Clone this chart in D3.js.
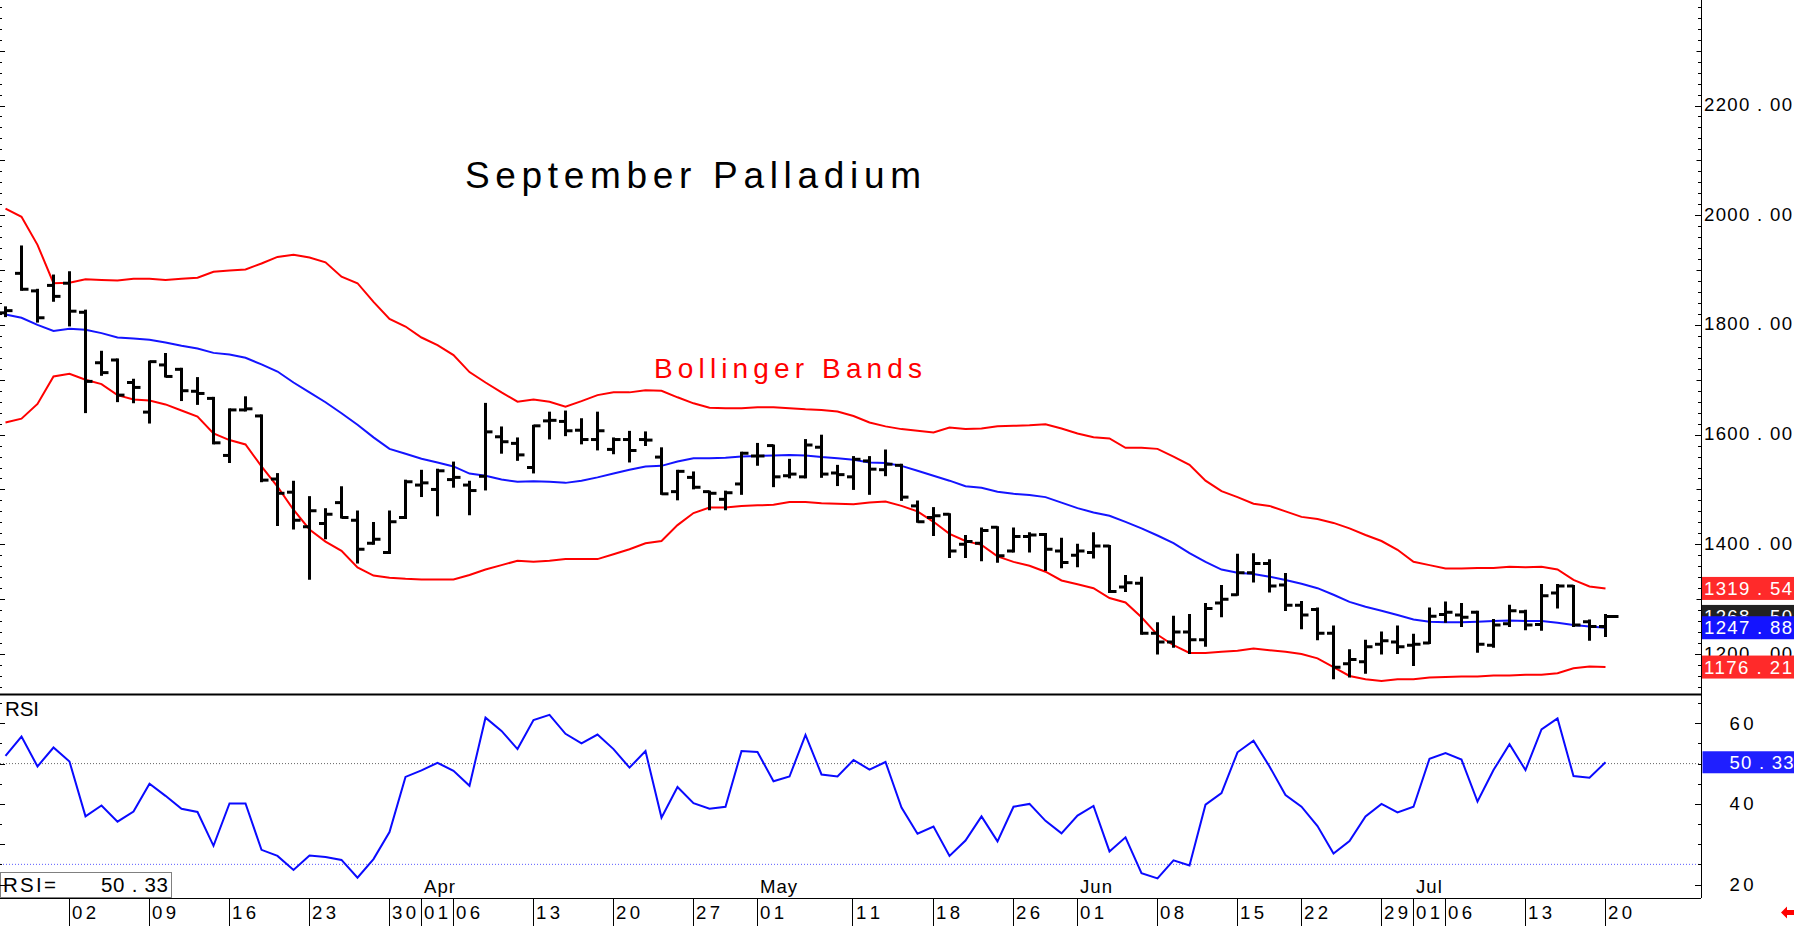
<!DOCTYPE html>
<html>
<head>
<meta charset="utf-8">
<script src="https://cdn.jsdelivr.net/npm/d3@7"></script>
<style>
  body { margin: 0; background: #fff; }
  svg { display: block; font-family: "Liberation Sans", Arial, sans-serif; }
</style>
</head>
<body>
<svg id="chart" width="1797" height="926"></svg>
<script>
// bars are indexed by trading day, 0 = Mar 02; the chart starts 4 bars earlier
var firstIndex = -4;

var opens = [1822, 1894, 1862, 1872,
  1876, 1823, 1731, 1736, 1695, 1641, 1727, 1719, 1679, 1666,
  1562, 1645, 1634, 1519, 1495, 1432, 1438, 1476, 1444, 1402,
  1385, 1449, 1508, 1500, 1518, 1508, 1524, 1596, 1584, 1540,
  1625, 1624, 1608, 1591, 1573, 1591, 1591, 1559, 1496, 1522,
  1496, 1482, 1510, 1561, 1580, 1525, 1523, 1577, 1530, 1523,
  1552, 1536, 1544, 1470, 1449, 1455, 1400, 1402, 1431, 1388,
  1414, 1418, 1388, 1380, 1385, 1397, 1322, 1329, 1238, 1222,
  1240, 1226, 1293, 1308, 1348, 1365, 1326, 1289, 1281, 1238,
  1182, 1186, 1218, 1222, 1216, 1220, 1272, 1271, 1276, 1216,
  1255, 1277, 1254, 1311, 1324, 1259, 1250];

var highs = [1832, 1943, 1864, 1890,
  1896, 1826, 1751, 1737, 1700, 1733, 1747, 1720, 1703, 1667,
  1646, 1668, 1635, 1528, 1514, 1486, 1464, 1504, 1460, 1439,
  1460, 1516, 1534, 1536, 1549, 1514, 1656, 1613, 1593, 1616,
  1640, 1642, 1628, 1640, 1593, 1605, 1604, 1575, 1534, 1531,
  1496, 1496, 1567, 1583, 1580, 1554, 1590, 1598, 1543, 1559,
  1559, 1571, 1545, 1478, 1466, 1455, 1415, 1429, 1431, 1429,
  1420, 1419, 1410, 1399, 1420, 1397, 1342, 1339, 1256, 1268,
  1271, 1291, 1324, 1381, 1382, 1371, 1346, 1295, 1283, 1250,
  1207, 1224, 1239, 1250, 1235, 1283, 1294, 1291, 1277, 1262,
  1288, 1279, 1326, 1326, 1324, 1261, 1271];

var lows = [1816, 1864, 1806, 1844,
  1799, 1641, 1709, 1661, 1659, 1622, 1706, 1663, 1656, 1584,
  1550, 1644, 1515, 1435, 1429, 1337, 1411, 1449, 1367, 1401,
  1384, 1448, 1488, 1453, 1505, 1455, 1500, 1567, 1554, 1531,
  1593, 1599, 1584, 1573, 1566, 1551, 1581, 1492, 1482, 1502,
  1464, 1464, 1492, 1545, 1506, 1522, 1522, 1523, 1508, 1501,
  1492, 1526, 1481, 1441, 1417, 1377, 1377, 1371, 1368, 1387,
  1387, 1353, 1358, 1360, 1376, 1313, 1315, 1237, 1201, 1213,
  1202, 1215, 1269, 1308, 1332, 1314, 1280, 1247, 1227, 1156,
  1159, 1166, 1201, 1202, 1180, 1220, 1259, 1251, 1204, 1213,
  1251, 1245, 1244, 1285, 1251, 1226, 1233];

var closes = [1826, 1865, 1813, 1852,
  1825, 1697, 1713, 1672, 1686, 1733, 1706, 1680, 1675, 1585,
  1645, 1647, 1517, 1493, 1444, 1461, 1455, 1449, 1391, 1409,
  1441, 1514, 1512, 1534, 1522, 1498, 1605, 1587, 1563, 1616,
  1626, 1607, 1591, 1607, 1591, 1571, 1590, 1492, 1533, 1504,
  1493, 1494, 1566, 1561, 1523, 1528, 1581, 1528, 1527, 1555,
  1537, 1546, 1486, 1441, 1452, 1388, 1405, 1425, 1379, 1414,
  1417, 1391, 1367, 1388, 1397, 1314, 1330, 1238, 1222, 1240,
  1226, 1283, 1300, 1348, 1365, 1324, 1289, 1271, 1238, 1176,
  1190, 1213, 1224, 1213, 1218, 1269, 1276, 1267, 1218, 1253,
  1279, 1253, 1306, 1324, 1253, 1250, 1268.5];

// bollinger bands
var upperBand = [2012, 1997, 1946, 1876,
  1877, 1883, 1882, 1881, 1884, 1884, 1882, 1884, 1886, 1897,
  1899, 1901, 1912, 1924, 1928, 1923, 1914, 1888, 1876, 1842,
  1811, 1797, 1777, 1763, 1745, 1714, 1695, 1677, 1660, 1664,
  1660, 1651, 1661, 1672, 1677, 1677, 1681, 1680, 1668, 1657,
  1649, 1648, 1648, 1650, 1650, 1648, 1646, 1645, 1642, 1634,
  1622, 1615, 1610, 1607, 1604, 1613, 1610, 1611, 1615, 1616,
  1617, 1619, 1611, 1602, 1595, 1593, 1576, 1576, 1574, 1560,
  1545, 1516, 1497, 1486, 1474, 1470, 1460, 1450, 1446, 1439,
  1429, 1417, 1406, 1390, 1368, 1362, 1356, 1356, 1357, 1357,
  1359, 1358, 1359, 1354, 1335, 1323, 1319.54];

var midBand = [1819, 1813, 1800, 1789,
  1793, 1791, 1785, 1777, 1775, 1773, 1768, 1762, 1757, 1749,
  1746, 1740, 1728, 1715, 1695, 1677, 1659, 1639, 1618, 1595,
  1574, 1565, 1556, 1549, 1542, 1529, 1525, 1518, 1514, 1515,
  1514, 1512, 1516, 1522, 1529, 1536, 1542, 1543, 1551, 1557,
  1557, 1558, 1560, 1561, 1562, 1563, 1562, 1559, 1557, 1554,
  1549, 1548, 1543, 1534, 1525, 1516, 1506, 1503, 1496, 1492,
  1490, 1486, 1476, 1466, 1458, 1452, 1441, 1429, 1416, 1402,
  1384, 1368, 1354, 1348, 1346, 1341, 1335, 1328, 1320, 1308,
  1295, 1286, 1279, 1271, 1263, 1259, 1258, 1258, 1259, 1260,
  1261, 1260, 1260, 1257, 1253, 1250, 1247.88];

var lowerBand = [1622, 1629, 1656, 1706,
  1711, 1700, 1692, 1672, 1664, 1662, 1655, 1644, 1633, 1602,
  1590, 1582, 1542, 1505, 1463, 1427, 1405, 1388, 1358, 1343,
  1339, 1337, 1336, 1336, 1336, 1344, 1354, 1362, 1370, 1368,
  1370, 1373, 1373, 1373, 1382, 1391, 1402, 1406, 1435, 1457,
  1467, 1467, 1470, 1471, 1472, 1477, 1477, 1475, 1474, 1473,
  1476, 1478, 1470, 1460, 1441, 1419, 1406, 1399, 1378, 1368,
  1361, 1350, 1334, 1327, 1320, 1302, 1294, 1267, 1235, 1216,
  1202, 1202, 1204, 1206, 1210, 1207, 1204, 1200, 1192, 1176,
  1160, 1154, 1151, 1154, 1154, 1157, 1158, 1159, 1159, 1161,
  1161, 1162, 1162, 1165, 1174, 1177, 1176.21];

var rsiValues = [51.9, 56.7, 49.3, 54.0,
  50.5, 36.9, 39.6, 35.6, 38.1, 45.0, 42.0, 38.8, 38.0, 29.6,
  40.1, 40.1, 28.6, 27.1, 23.6, 27.2, 26.8, 26.1, 21.7, 26.3,
  33.0, 46.7, 48.3, 50.2, 48.2, 44.5, 61.4, 58.1, 53.6, 60.8,
  62.1, 57.4, 55.0, 57.2, 53.6, 49.0, 53.1, 36.6, 44.2, 40.2,
  38.8, 39.3, 53.1, 52.9, 45.6, 46.8, 57.1, 47.3, 46.8, 50.9,
  48.5, 50.4, 39.1, 32.6, 34.4, 27.1, 30.9, 36.9, 30.7, 39.3,
  40.0, 35.8, 32.7, 37.1, 39.5, 28.2, 31.7, 22.8, 21.5, 26.0,
  24.7, 39.8, 42.7, 52.8, 55.7, 49.3, 42.2, 39.3, 34.5, 27.7,
  30.8, 36.9, 40.0, 37.9, 39.3, 51.2, 52.6, 51.0, 40.6, 48.4,
  54.8, 48.4, 58.5, 61.2, 46.9, 46.5, 50.33];

// date axis: bar index + label
var dayTicks = [
  {i: 0, label: '02'}, {i: 5, label: '09'}, {i: 10, label: '16'}, {i: 15, label: '23'},
  {i: 20, label: '30'}, {i: 22, label: '01'}, {i: 24, label: '06'}, {i: 29, label: '13'},
  {i: 34, label: '20'}, {i: 39, label: '27'}, {i: 43, label: '01'}, {i: 49, label: '11'},
  {i: 54, label: '18'}, {i: 59, label: '26'}, {i: 63, label: '01'}, {i: 68, label: '08'},
  {i: 73, label: '15'}, {i: 77, label: '22'}, {i: 82, label: '29'}, {i: 84, label: '01'},
  {i: 86, label: '06'}, {i: 91, label: '13'}, {i: 96, label: '20'}
];
var monthTicks = [
  {i: 22, label: 'Apr'}, {i: 43, label: 'May'}, {i: 63, label: 'Jun'}, {i: 84, label: 'Jul'}
];
var priceLabels = [1200, 1400, 1600, 1800, 2000, 2200];
var rsiLabels = [20, 40, 60];
var rsiLevels = [50, 25];

var titleText = 'September Palladium';
var bandText = 'Bollinger Bands';

var svg = d3.select('#chart');
var axisX = 1701;
var priceBottom = 694.5;
var rsiBottom = 898;

var x = d3.scaleLinear().domain([0, 96]).range([69.5, 1605.5]);
var y = d3.scaleLinear().domain([1200, 2200]).range([654, 105.5]);
var yRsi = d3.scaleLinear().domain([20, 60]).range([884.5, 723.3]);

function barX(k) {
  return x(firstIndex + k);
}

function spaced(v, digits) {
  // price labels on this chart are drawn with a wide decimal point
  return v.toFixed(digits).replace('.', ' . ');
}

var defs = svg.append('defs');
defs.append('clipPath').attr('id', 'clipPrice')
  .append('rect').attr('x', 0).attr('y', 0).attr('width', axisX).attr('height', priceBottom - 1);
defs.append('clipPath').attr('id', 'clipRsi')
  .append('rect').attr('x', 0).attr('y', priceBottom + 1).attr('width', axisX).attr('height', rsiBottom - priceBottom - 2);

//---- price pane ----
var price = svg.append('g').attr('clip-path', 'url(#clipPrice)');

var line = d3.line()
  .x(function(d, k) { return barX(k); })
  .y(function(d) { return y(d); });

price.append('path').datum(upperBand)
  .attr('d', line).attr('fill', 'none').attr('stroke', '#ff0000').attr('stroke-width', 2);
price.append('path').datum(lowerBand)
  .attr('d', line).attr('fill', 'none').attr('stroke', '#ff0000').attr('stroke-width', 2);
price.append('path').datum(midBand)
  .attr('d', line).attr('fill', 'none').attr('stroke', '#1414ff').attr('stroke-width', 2);

var bars = price.selectAll('g.bar')
  .data(opens)
  .enter().append('g')
  .attr('class', 'bar');

bars.append('line')
  .attr('x1', function(d, k) { return barX(k); })
  .attr('x2', function(d, k) { return barX(k); })
  .attr('y1', function(d, k) { return y(highs[k]) - 1; })
  .attr('y2', function(d, k) { return y(lows[k]) + 1; })
  .attr('stroke', '#000').attr('stroke-width', 3);

bars.append('line')
  .attr('x1', function(d, k) { return barX(k) - 6.5; })
  .attr('x2', function(d, k) { return barX(k); })
  .attr('y1', function(d) { return y(d); })
  .attr('y2', function(d) { return y(d); })
  .attr('stroke', '#000').attr('stroke-width', 3);

bars.append('line')
  .attr('x1', function(d, k) { return barX(k); })
  .attr('x2', function(d, k) { return barX(k) + (k == opens.length - 1 ? 13 : 7); })
  .attr('y1', function(d, k) { return y(closes[k]); })
  .attr('y2', function(d, k) { return y(closes[k]); })
  .attr('stroke', '#000').attr('stroke-width', 3);

svg.append('text')
  .attr('x', 465).attr('y', 187.5)
  .attr('font-size', 37)
  .attr('textLength', 456).attr('lengthAdjust', 'spacing')
  .attr('fill', '#000')
  .text(titleText);

svg.append('text')
  .attr('x', 654).attr('y', 377.5)
  .attr('font-size', 28)
  .attr('textLength', 268).attr('lengthAdjust', 'spacing')
  .attr('fill', '#ff0000')
  .text(bandText);

//---- RSI pane ----
var rsi = svg.append('g').attr('clip-path', 'url(#clipRsi)');

rsi.append('line')
  .attr('x1', 0).attr('x2', axisX)
  .attr('y1', yRsi(rsiLevels[0])).attr('y2', yRsi(rsiLevels[0]))
  .attr('stroke', '#666').attr('stroke-width', 1).attr('stroke-dasharray', '1,2');
rsi.append('line')
  .attr('x1', 0).attr('x2', axisX)
  .attr('y1', yRsi(rsiLevels[1])).attr('y2', yRsi(rsiLevels[1]))
  .attr('stroke', '#5a5aff').attr('stroke-width', 1).attr('stroke-dasharray', '1,2');

var rsiLine = d3.line()
  .x(function(d, k) { return barX(k); })
  .y(function(d) { return yRsi(d); });

rsi.append('path').datum(rsiValues)
  .attr('d', rsiLine).attr('fill', 'none').attr('stroke', '#0a0aff').attr('stroke-width', 2);

svg.append('text')
  .attr('x', 5).attr('y', 716)
  .attr('font-size', 20.5)
  .attr('textLength', 34).attr('lengthAdjust', 'spacing')
  .text('RSI');

// current RSI box, bottom left
svg.append('rect')
  .attr('x', 0.5).attr('y', 872.5).attr('width', 171).attr('height', 25)
  .attr('fill', '#fff').attr('stroke', '#808080').attr('stroke-width', 1);
svg.append('text')
  .attr('x', 3).attr('y', 892)
  .attr('font-size', 20.5)
  .attr('textLength', 53).attr('lengthAdjust', 'spacing')
  .text('RSI=');
svg.append('text')
  .attr('x', 101).attr('y', 892)
  .attr('font-size', 20.5)
  .attr('textLength', 67).attr('lengthAdjust', 'spacing')
  .text(spaced(rsiValues[rsiValues.length - 1], 2));

//---- frame lines ----
svg.append('line')
  .attr('x1', 0).attr('x2', axisX).attr('y1', priceBottom).attr('y2', priceBottom)
  .attr('stroke', '#000').attr('stroke-width', 2);
svg.append('line')
  .attr('x1', 0).attr('x2', axisX).attr('y1', rsiBottom + 0.5).attr('y2', rsiBottom + 0.5)
  .attr('stroke', '#000').attr('stroke-width', 1);
svg.append('line')
  .attr('x1', axisX + 0.5).attr('x2', axisX + 0.5).attr('y1', 0).attr('y2', rsiBottom)
  .attr('stroke', '#000').attr('stroke-width', 1);

//---- price axis ticks (right and left) ----
var priceTicks = d3.range(1100, 2400, 20).filter(function(v) {
  return y(v) > 2 && y(v) < priceBottom - 2;
});
svg.selectAll('line.ptick')
  .data(priceTicks)
  .enter().append('line')
  .attr('class', 'ptick')
  .attr('x1', function(v) { return axisX - (v % 200 == 0 ? 6 : (v % 100 == 0 ? 4.5 : 3)); })
  .attr('x2', axisX)
  .attr('y1', function(v) { return Math.round(y(v)) + 0.5; })
  .attr('y2', function(v) { return Math.round(y(v)) + 0.5; })
  .attr('stroke', '#000').attr('stroke-width', 1);
svg.selectAll('line.pltick')
  .data(priceTicks)
  .enter().append('line')
  .attr('class', 'pltick')
  .attr('x1', 0)
  .attr('x2', function(v) { return v % 100 == 0 ? 5 : 2; })
  .attr('y1', function(v) { return Math.round(y(v)) + 0.5; })
  .attr('y2', function(v) { return Math.round(y(v)) + 0.5; })
  .attr('stroke', '#000').attr('stroke-width', 1);

svg.selectAll('text.plabel')
  .data(priceLabels)
  .enter().append('text')
  .attr('class', 'plabel')
  .attr('x', 1704).attr('y', function(v) { return y(v) + 5.5; })
  .attr('font-size', 18.6)
  .attr('textLength', 88).attr('lengthAdjust', 'spacing')
  .attr('fill', '#000')
  .text(function(v) { return spaced(v, 2); });

// value boxes at the right edge
var valueBoxes = [
  {v: closes[closes.length - 1], fill: '#222222'},
  {v: midBand[midBand.length - 1], fill: '#1414ff'},
  {v: upperBand[upperBand.length - 1], fill: '#ff2a2a'},
  {v: lowerBand[lowerBand.length - 1], fill: '#ff2a2a'}
];
var boxes = svg.selectAll('g.vbox')
  .data(valueBoxes)
  .enter().append('g')
  .attr('class', 'vbox');
boxes.append('rect')
  .attr('x', 1702).attr('width', 92)
  .attr('y', function(d) { return y(d.v) - 11.5; })
  .attr('height', 23)
  .attr('fill', function(d) { return d.fill; });
boxes.append('text')
  .attr('x', 1704).attr('y', function(d) { return y(d.v) + 6.5; })
  .attr('font-size', 18.6)
  .attr('textLength', 88).attr('lengthAdjust', 'spacing')
  .attr('fill', '#fff')
  .text(function(d) { return spaced(d.v, 2); });

//---- RSI axis ----
var rsiTicks = d3.range(20, 66, 5);
svg.selectAll('line.rtick')
  .data(rsiTicks)
  .enter().append('line')
  .attr('class', 'rtick')
  .attr('x1', function(v) { return axisX - (v % 20 == 0 ? 6 : 3); })
  .attr('x2', axisX)
  .attr('y1', function(v) { return Math.round(yRsi(v)) + 0.5; })
  .attr('y2', function(v) { return Math.round(yRsi(v)) + 0.5; })
  .attr('stroke', '#000').attr('stroke-width', 1);
svg.selectAll('line.rltick')
  .data(rsiTicks)
  .enter().append('line')
  .attr('class', 'rltick')
  .attr('x1', 0)
  .attr('x2', function(v) { return v % 10 == 0 ? 5 : 2; })
  .attr('y1', function(v) { return Math.round(yRsi(v)) + 0.5; })
  .attr('y2', function(v) { return Math.round(yRsi(v)) + 0.5; })
  .attr('stroke', '#000').attr('stroke-width', 1);

svg.selectAll('text.rlabel')
  .data(rsiLabels)
  .enter().append('text')
  .attr('class', 'rlabel')
  .attr('x', 1729.5).attr('y', function(v) { return yRsi(v) + 6.5; })
  .attr('font-size', 18.6)
  .attr('textLength', 24).attr('lengthAdjust', 'spacing')
  .text(function(v) { return v; });

var rsiLast = rsiValues[rsiValues.length - 1];
svg.append('rect')
  .attr('x', 1702.5).attr('width', 91.5)
  .attr('y', yRsi(rsiLast) - 11).attr('height', 22)
  .attr('fill', '#1f1fff');
svg.append('text')
  .attr('x', 1729.5).attr('y', yRsi(rsiLast) + 6.5)
  .attr('font-size', 18.6)
  .attr('textLength', 64).attr('lengthAdjust', 'spacing')
  .attr('fill', '#fff')
  .text(spaced(rsiLast, 2));

//---- date axis ----
svg.selectAll('line.dsep')
  .data(dayTicks)
  .enter().append('line')
  .attr('class', 'dsep')
  .attr('x1', function(d) { return Math.round(x(d.i)) - 0.5; })
  .attr('x2', function(d) { return Math.round(x(d.i)) - 0.5; })
  .attr('y1', rsiBottom).attr('y2', 926)
  .attr('stroke', '#000').attr('stroke-width', 1);

svg.selectAll('text.dlabel')
  .data(dayTicks)
  .enter().append('text')
  .attr('class', 'dlabel')
  .attr('x', function(d) { return x(d.i) + 2.5; })
  .attr('y', 918.5)
  .attr('font-size', 18.6)
  .attr('textLength', 24).attr('lengthAdjust', 'spacing')
  .text(function(d) { return d.label; });

svg.selectAll('text.mlabel')
  .data(monthTicks)
  .enter().append('text')
  .attr('class', 'mlabel')
  .attr('x', function(d) { return x(d.i) + 2.5; })
  .attr('y', 893)
  .attr('font-size', 18.6)
  .attr('letter-spacing', 1)
  .text(function(d) { return d.label; });

// little red arrow, bottom right
svg.append('path')
  .attr('d', 'M1781,912.5 L1787,906.5 L1787,910 L1794,910 L1794,915 L1787,915 L1787,918.5 Z')
  .attr('fill', '#ff0000');
</script>
</body>
</html>
